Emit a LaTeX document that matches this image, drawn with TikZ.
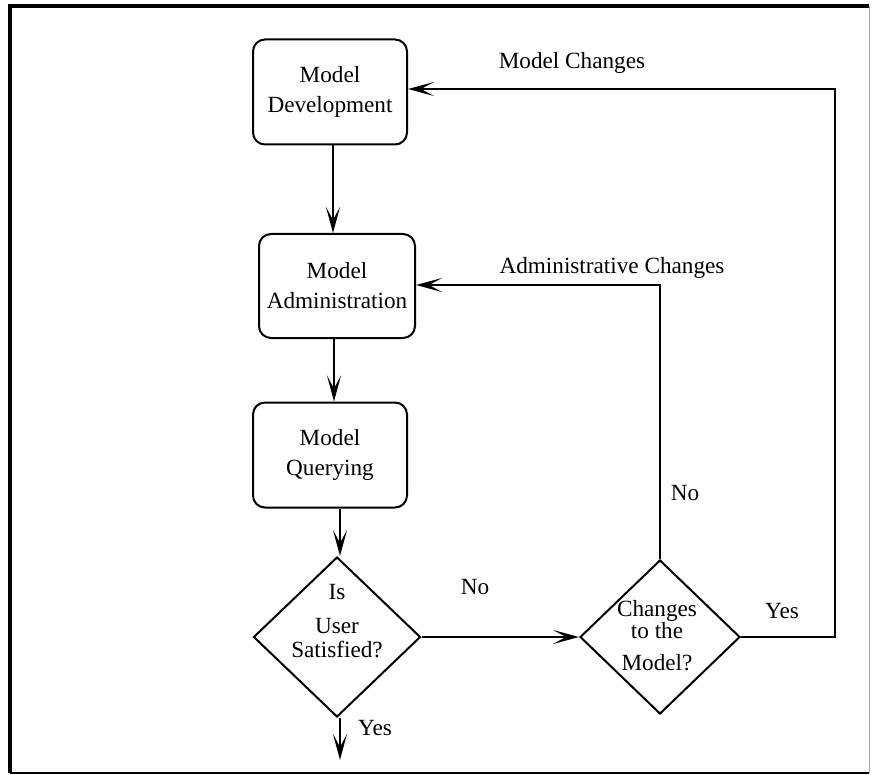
\documentclass[tikz,border=0pt]{standalone}
\usepackage{fontspec}
\setmainfont{Liberation Serif}
\usetikzlibrary{shapes.geometric,arrows.meta}
\begin{document}
\begin{tikzpicture}[x=0.5pt,y=-0.5pt,
  every node/.style={font=\fontsize{11.6pt}{15pt}\selectfont},
  procbox/.style={draw,line width=1pt,rounded corners=6pt,align=center,inner sep=0pt},
  decision/.style={draw,line width=1pt,diamond,inner sep=0pt},
  flow/.style={line width=1.25pt,-{Stealth[length=13pt,width=7pt,inset=6.5pt]}},
  lbl/.style={inner sep=0pt}]
\useasboundingbox (0,0) rectangle (872,775);
% frame
\draw[line width=1.6pt] (10,773) -- (10,6) -- (869,6);
\draw[line width=1.2pt] (10,773) -- (869,773);
\draw[line width=0.4pt,black!35] (869,6) -- (869,773);
% boxes
\node[procbox,minimum width=77pt,minimum height=52.5pt] (dev) at (330,92) {Model\\Development};
\node[procbox,minimum width=78pt,minimum height=52pt] (adm) at (337,286) {Model\\Administration};
\node[procbox,minimum width=77pt,minimum height=52.5pt] (qry) at (330,455) {Model\\Querying};
% decisions
\node[decision,minimum width=83.5pt,minimum height=80pt] (sat) at (337,637) {};
\node[lbl,align=center] (sattxt) at (337,621) {Is\\[2pt]User\\[-3pt]Satisfied?};
\node[decision,minimum width=80pt,minimum height=77pt] (chg) at (660,637) {};
\node[lbl,align=center] (chgtxt) at (657,636) {Changes\\[-4pt]to the\\[1pt]Model?};
% coordinates
\coordinate (end) at (340,760);
\coordinate (c1) at (835,637);
\coordinate (c2) at (835,89);
\coordinate (c3) at (660,285);
% connectors
\draw[flow] (dev.south -| 333,0) -- (adm.north -| 333,0);
\draw[flow] (adm.south -| 334,0) -- (qry.north -| 334,0);
\draw[flow] (qry.south -| 340,0) -- (sat.north -| 340,0);
\draw[flow] (sat.south -| 340,0) -- (end);
\draw[flow] (sat.east) -- (chg.west);
\draw[flow] (chg.north) -- (c3) -- (adm.east |- c3);
\draw[flow] (chg.east) -- (c1) -- (c2) -- (dev.east |- c2);
% labels
\node[lbl] (yes1) at (375,728) {Yes};
\node[lbl] (no1) at (475,587) {No};
\node[lbl] (no2) at (685,493) {No};
\node[lbl] (yes2) at (782,611) {Yes};
\node[lbl] (admch) at (612,268) {Administrative Changes};
\node[lbl] (modch) at (572,63) {Model Changes};
\end{tikzpicture}
\end{document}
